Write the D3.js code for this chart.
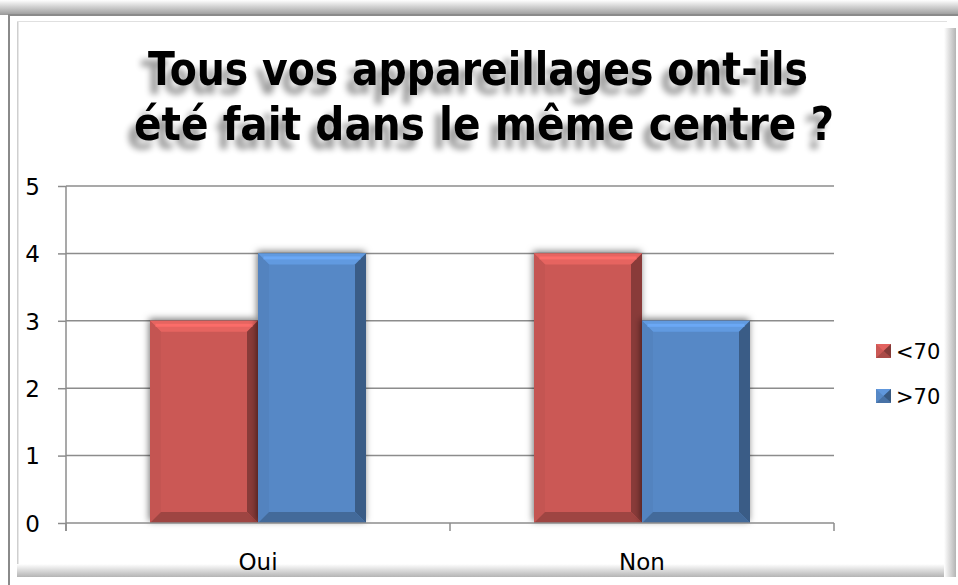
<!DOCTYPE html>
<html><head><meta charset="utf-8">
<script src="https://cdn.jsdelivr.net/npm/d3@7"></script>
<style>body{margin:0;background:#fff}svg{display:block}</style>
</head><body>
<script>
const categories = ["Oui", "Non"];
const seriesNames = ["<70", ">70"];
const valuesUnder70 = [3, 4];
const valuesOver70 = [4, 3];
const yTicks = [0, 1, 2, 3, 4, 5];
const titleLines = ["Tous vos appareillages ont-ils", "été fait dans le même centre ?"];
const colors = ["#CB5855", "#5688C6"];
const seriesValues = [valuesUnder70, valuesOver70];

const W = 958, H = 585;
const FONT = "'DejaVu Sans', sans-serif";
const svg = d3.select("body").append("svg").attr("width", W).attr("height", H);
const defs = svg.append("defs");

const gTop = defs.append("linearGradient").attr("id","gTop").attr("x1",0).attr("y1",0).attr("x2",0).attr("y2",1);
gTop.append("stop").attr("offset","0").attr("stop-color","#ffffff");
gTop.append("stop").attr("offset","1").attr("stop-color","#999999");
const gBot = defs.append("linearGradient").attr("id","gBot").attr("x1",0).attr("y1",0).attr("x2",0).attr("y2",1);
gBot.append("stop").attr("offset","0").attr("stop-color","#ffffff");
gBot.append("stop").attr("offset","1").attr("stop-color","#b4b4b4");
const gRight = defs.append("linearGradient").attr("id","gRight").attr("x1",0).attr("y1",0).attr("x2",1).attr("y2",0);
gRight.append("stop").attr("offset","0").attr("stop-color","#ffffff");
gRight.append("stop").attr("offset","1").attr("stop-color","#b4b4b4");

const fShadow = defs.append("filter").attr("id","barShadow").attr("x","-30%").attr("y","-30%").attr("width","160%").attr("height","160%");
fShadow.append("feDropShadow").attr("dx",-1).attr("dy",-2).attr("stdDeviation",3.5).attr("flood-color","#000").attr("flood-opacity",0.55);
const fText = defs.append("filter").attr("id","textShadow").attr("filterUnits","userSpaceOnUse")
  .attr("x",60).attr("y",25).attr("width",840).attr("height",150);
fText.append("feGaussianBlur").attr("in","SourceAlpha").attr("stdDeviation",3).attr("result","b");
fText.append("feOffset").attr("in","b").attr("dx",-7).attr("dy",9).attr("result","o");
fText.append("feComponentTransfer").attr("in","o").attr("result","o2").append("feFuncA").attr("type","linear").attr("slope",0.4);
const fm = fText.append("feMerge");
fm.append("feMergeNode").attr("in","o2");
fm.append("feMergeNode").attr("in","SourceGraphic");

// frame
svg.append("rect").attr("x",0).attr("y",0).attr("width",W).attr("height",15).attr("fill","url(#gTop)");
svg.append("rect").attr("x",9).attr("y",14).attr("width",W-9).attr("height",2).attr("fill","#8a8a8a");
svg.append("rect").attr("x",8).attr("y",14).attr("width",2).attr("height",H-14).attr("fill","#8a8a8a");
svg.append("rect").attr("x",17).attr("y",21).attr("width",1.5).attr("height",555).attr("fill","#cfcfcf");
svg.append("rect").attr("x",17).attr("y",21).attr("width",930).attr("height",1).attr("fill","#e0e0e0");
svg.append("rect").attr("x",17).attr("y",564).attr("width",932).attr("height",13).attr("fill","url(#gBot)");
svg.append("rect").attr("x",944).attr("y",28).attr("width",12).attr("height",549).attr("fill","url(#gRight)");

// title
const titleSpecs = [{cx:478, y:85, len:660}, {cx:484, y:140, len:700}];
const titleG = svg.append("g").attr("filter","url(#textShadow)");
titleLines.forEach((t,i)=>{
  titleG.append("text").attr("text-anchor","middle")
    .attr("x",titleSpecs[i].cx).attr("y",titleSpecs[i].y)
    .attr("textLength",titleSpecs[i].len).attr("lengthAdjust","spacingAndGlyphs")
    .attr("font-family",FONT).attr("font-weight","bold").attr("font-size",46)
    .attr("fill","#000").text(t);
});

// scales
const margin = {left:66, right:834, top:186, bottom:523};
const x0 = d3.scaleBand().domain(categories).range([margin.left, margin.right]).paddingInner(0.4375).paddingOuter(0.21875);
const x1 = d3.scaleBand().domain(seriesNames).range([0, x0.bandwidth()]);
const y = d3.scaleLinear().domain([0,5]).range([margin.bottom, margin.top]);

// gridlines
svg.append("g").selectAll("line").data(yTicks.filter(d=>d>0)).join("line")
  .attr("x1",margin.left).attr("x2",margin.right).attr("y1",d=>y(d)).attr("y2",d=>y(d))
  .attr("stroke","#8c8c8c").attr("stroke-width",1.5);

// y axis
const yAxis = svg.append("g").attr("transform",`translate(${margin.left},0)`)
  .call(d3.axisLeft(y).tickValues(yTicks).tickSize(8).tickPadding(18).tickFormat(d3.format("d")));
yAxis.attr("font-size",null).attr("font-family",null);
yAxis.select(".domain").attr("stroke","#8c8c8c").attr("stroke-width",1.5).attr("d",`M0,${margin.top}V${margin.bottom+8}`);
yAxis.selectAll(".tick line").attr("stroke","#8c8c8c").attr("stroke-width",1.5);
yAxis.selectAll("text").style("font-family",FONT).style("font-size","23px").attr("fill","#000").attr("dy","0.36em");

// bars
const groups = svg.append("g").selectAll("g").data(categories).join("g")
  .attr("transform",d=>`translate(${x0(d)},0)`);
const bw = x1.bandwidth();
const bev = 11;
groups.each(function(cat, ci){
  const g = d3.select(this);
  seriesNames.forEach((s, si)=>{
    const v = seriesValues[si][ci];
    const bx = x1(s), by = y(v), bh = y(0)-y(v);
    const base = d3.color(colors[si]);
    const bg = g.append("g");
    bg.append("rect").attr("x",bx).attr("y",by).attr("width",bw).attr("height",bh).attr("fill",base.formatHex()).attr("filter","url(#barShadow)");
    bg.append("polygon").attr("points",[[bx,by],[bx+bw,by],[bx+bw-bev,by+bev],[bx+bev,by+bev]].join(" "))
      .attr("fill",base.brighter(0.35).formatHex());
    bg.append("polygon").attr("points",[[bx,by],[bx+bev,by+bev],[bx+bev,by+bh-bev],[bx,by+bh]].join(" "))
      .attr("fill",base.darker(0.1).formatHex());
    bg.append("polygon").attr("points",[[bx+bw,by],[bx+bw,by+bh],[bx+bw-bev,by+bh-bev],[bx+bw-bev,by+bev]].join(" "))
      .attr("fill",base.darker(1.1).formatHex());
    bg.append("polygon").attr("points",[[bx,by+bh],[bx+bw,by+bh],[bx+bw-bev,by+bh-bev],[bx+bev,by+bh-bev]].join(" "))
      .attr("fill",base.darker(0.7).formatHex());
    bg.append("rect").attr("x",bx+bev/2).attr("y",by+3).attr("width",bw-bev).attr("height",3).attr("fill",base.brighter(0.6).formatHex());
  });
});

// x axis
const xAxisLine = svg.append("g").attr("transform",`translate(0,${margin.bottom})`);
xAxisLine.append("line").attr("x1",margin.left).attr("x2",margin.right).attr("y1",0).attr("y2",0).attr("stroke","#8c8c8c").attr("stroke-width",1.5);
const tickXs = [margin.left, ...categories.slice(1).map(c=>x0(c)-x0.step()*x0.paddingInner()/2), margin.right];
xAxisLine.selectAll("line.t").data(tickXs).join("line").attr("class","t")
  .attr("x1",d=>d).attr("x2",d=>d).attr("y1",0).attr("y2",8).attr("stroke","#8c8c8c").attr("stroke-width",1.5);
xAxisLine.selectAll("text").data(categories).join("text")
  .attr("x",d=>x0(d)+x0.bandwidth()/2).attr("y",47).attr("text-anchor","middle")
  .style("font-family",FONT).style("font-size","23px").attr("fill","#000").text(d=>d);

// legend
const legend = svg.append("g").attr("transform","translate(876,344)");
seriesNames.forEach((s,i)=>{
  const lg = legend.append("g").attr("transform",`translate(0,${i*45})`);
  const c = d3.color(colors[i]);
  lg.append("rect").attr("x",0).attr("y",0).attr("width",15).attr("height",14).attr("fill",c.formatHex());
  lg.append("polygon").attr("points","0,0 15,0 7.5,7").attr("fill",c.brighter(0.3).formatHex());
  lg.append("polygon").attr("points","15,0 15,14 7.5,7").attr("fill",c.darker(1.2).formatHex());
  lg.append("polygon").attr("points","0,14 15,14 7.5,7").attr("fill",c.darker(0.5).formatHex());
  lg.append("text").attr("x",20).attr("y",7).attr("dy","0.36em")
    .style("font-family",FONT).style("font-size","21px").attr("fill","#000").text(s);
});
</script>
</body></html>
